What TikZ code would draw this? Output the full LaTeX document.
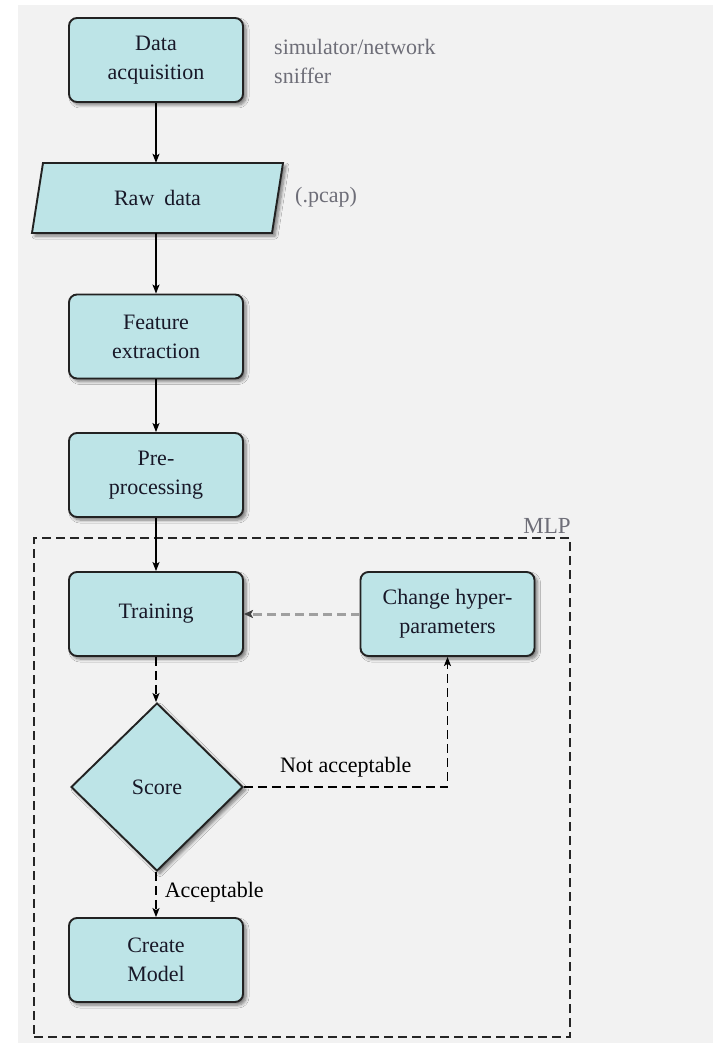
\documentclass[tikz,border=0pt]{standalone}
\usepackage{fontspec}
\setmainfont{Liberation Serif}
\usetikzlibrary{shapes.geometric,arrows.meta,shadows.blur,calc}

\definecolor{pagegray}{HTML}{F2F2F2}
\definecolor{boxfill}{HTML}{BDE4E7}
\definecolor{boxline}{HTML}{222222}
\definecolor{inktext}{HTML}{181828}
\definecolor{notetext}{HTML}{6E6E78}
\definecolor{loopgray}{HTML}{A0A0A0}

\tikzset{
  every node/.style={font=\fontsize{22}{29}\selectfont, text=inktext},
  shade/.style={blur shadow={shadow xshift=3pt, shadow yshift=-3pt,
      shadow blur radius=3pt, shadow blur steps=6, shadow opacity=50}},
  outline/.style={draw=boxline, line width=1.9pt, fill=boxfill, shade},
  stepbox/.style={outline, rounded corners=8pt, minimum width=174pt,
      minimum height=84pt, align=center, inner sep=0pt},
  decide/.style={outline, diamond, minimum width=172pt, minimum height=168pt,
      inner sep=0pt},
  note/.style={text=notetext, align=left, inner sep=0pt},
  flow/.style={draw=black, line width=1.3pt,
      -{Stealth[length=9pt,width=7pt,inset=2pt]}},
  flowdash/.style={flow, line width=1.6pt, dash pattern=on 9pt off 5pt},
  backflow/.style={draw=loopgray, line width=3pt, dash pattern=on 9pt off 5pt,
      -{Stealth[length=9pt,width=8pt,inset=2pt,color=black!75]}},
  region/.style={draw=black!85, line width=1.8pt, dash pattern=on 9pt off 5pt,
      minimum width=536pt, minimum height=499pt, inner sep=0pt},
}

\begin{document}
\begin{tikzpicture}[x=1pt, y=-1pt]
  % page and grey panel
  \fill[white] (0,0) rectangle (718,1043);
  \fill[pagegray] (18,5) rectangle (713,1043);
  \useasboundingbox (0,0) rectangle (718,1043);

  % MLP region
  \node[region] (mlp) at (302,787.5) {};
  \node[text=notetext, anchor=south east, inner sep=0pt,
        font=\fontsize{23}{28}\selectfont] (mlplabel) at ([yshift=3pt]mlp.north east) {MLP};

  % input/output parallelogram for the raw capture
  \coordinate (rawc) at (157.5,198);
  \path[outline] ($(rawc)+(-114.5,-35)$) -- ($(rawc)+(125.5,-35)$)
      -- ($(rawc)+(114.5,35)$) -- ($(rawc)+(-125.5,35)$) -- cycle;

  % main chain
  \node[stepbox] (acq)   at (156,60)    {Data\\acquisition};
  \node[inner sep=0pt, minimum width=240pt, minimum height=70pt] (raw) at (rawc) {Raw\hspace{0.45em}data};
  \node[stepbox] (feat)  at (156,336.5) {Feature\\extraction};
  \node[stepbox] (pre)   at (156,475)   {Pre-\\processing};
  \node[stepbox] (train) at (156,614)   {Training};
  \node[stepbox] (chg)   at (447.5,614) {Change hyper-\\parameters};
  \node[decide]  (score) at (157,787)   {Score};
  \node[stepbox] (model) at (156,960)   {Create\\Model};

  % side notes
  \node[note, anchor=west] (src) at (274,61) {simulator/network\\sniffer};
  \node[note, anchor=west] (fmt) at (295,197) {(.pcap)};

  % connectors
  \draw[flow] (acq.south) -- (acq.south |- raw.north);
  \draw[flow] (acq.south |- raw.south) -- (feat.north);
  \draw[flow] (feat) -- (pre);
  \draw[flow] (pre) -- (train);
  \draw[flowdash] (train.south) -- (train.south |- score.north);
  \draw[backflow] (chg.west) -- (train.east);
  \draw[flowdash] (score.east) -- (score.east -| chg.south)
      node[pos=0.5, above=9pt, inner sep=0pt, text=black] (nacc) {Not acceptable}
      -- (chg.south);
  \draw[flowdash] (train.south |- score.south) -- (model.north)
      node[pos=0.45, right=8pt, inner sep=0pt, text=black] (acc) {Acceptable};
\end{tikzpicture}
\end{document}
